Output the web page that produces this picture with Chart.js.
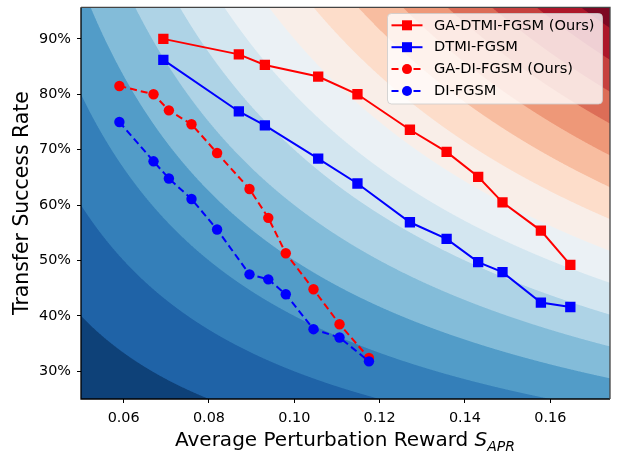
<!DOCTYPE html>
<html>
<head>
<meta charset="utf-8">
<script src="https://cdn.jsdelivr.net/npm/chart.js@4.4.1/dist/chart.umd.min.js"></script>
<style>
  html, body { margin: 0; padding: 0; background: #ffffff; }
  #wrap { width: 619px; height: 453px; }
</style>
</head>
<body>
<div id="wrap"><canvas id="c" width="619" height="453"></canvas></div>
<script>
// ---- data ----
const X_SQUARE = [0.0693, 0.0870, 0.0931, 0.1056, 0.1148, 0.1271, 0.1357, 0.1431, 0.1488, 0.1578, 0.1647];
const GA_DTMI_FGSM = [90.0, 87.2, 85.3, 83.2, 80.0, 73.6, 69.6, 65.1, 60.5, 55.4, 49.2];
const DTMI_FGSM = [86.2, 76.9, 74.4, 68.4, 63.9, 56.9, 53.9, 49.7, 47.9, 42.4, 41.6];
const X_CIRCLE = [0.0590, 0.0670, 0.0706, 0.0759, 0.0819, 0.0895, 0.0939, 0.0980, 0.1045, 0.1106, 0.1175];
const GA_DI_FGSM = [81.5, 80.0, 77.1, 74.6, 69.4, 62.9, 57.7, 51.3, 44.8, 38.5, 32.4];
const DI_FGSM = [75.0, 67.9, 64.8, 61.1, 55.6, 47.5, 46.6, 43.9, 37.6, 36.1, 31.8];
const SERIES_LABELS = ['GA-DTMI-FGSM (Ours)', 'DTMI-FGSM', 'GA-DI-FGSM (Ours)', 'DI-FGSM'];
const X_TICKS = [0.06, 0.08, 0.10, 0.12, 0.14, 0.16];
const Y_TICKS = [30, 40, 50, 60, 70, 80, 90];
// contour levels of the background field (S_APR * success rate)
const LEVELS = [0.01, 0.02, 0.03, 0.04, 0.05, 0.06, 0.07, 0.08, 0.09, 0.10, 0.11, 0.12, 0.13, 0.14, 0.15, 0.16, 0.17];

// RdBu_r colormap anchors
const RDBU_R = [
  [5, 48, 97], [33, 102, 172], [67, 147, 195], [146, 197, 222], [209, 229, 240],
  [247, 247, 247], [253, 219, 199], [244, 165, 130], [214, 96, 77], [178, 24, 43], [103, 0, 31]
];
function cmap(t) {
  t = Math.max(0, Math.min(1, t));
  const p = t * (RDBU_R.length - 1);
  const i = Math.min(Math.floor(p), RDBU_R.length - 2);
  const f = p - i;
  const a = RDBU_R[i], b = RDBU_R[i + 1];
  return [a[0] + (b[0] - a[0]) * f, a[1] + (b[1] - a[1]) * f, a[2] + (b[2] - a[2]) * f];
}
const L0 = LEVELS[0], L1 = LEVELS[LEVELS.length - 1];
const BAND_COLORS = [];
for (let i = 0; i < LEVELS.length - 1; i++) {
  const mid = (LEVELS[i] + LEVELS[i + 1]) / 2;
  BAND_COLORS.push(cmap((mid - L0) / (L1 - L0)));
}
function field(x, yPct) { return x * yPct / 100; }
function bandOf(z) {
  if (z < L0 || z > L1) return -1;
  for (let i = 0; i < LEVELS.length - 1; i++) {
    if (z <= LEVELS[i + 1]) return i;
  }
  return -1;
}

const FONT = "'DejaVu Sans', sans-serif";

const bgPlugin = {
  id: 'bg',
  beforeDraw(chart) {
    const ctx = chart.ctx;
    ctx.save();
    ctx.fillStyle = '#ffffff';
    ctx.fillRect(0, 0, chart.width, chart.height);
    ctx.restore();
  },
  beforeDatasetsDraw(chart) {
    const { ctx, chartArea: ca, scales } = chart;
    const xs = scales.x, ys = scales.y;
    const L = Math.floor(ca.left), T = Math.floor(ca.top);
    const W = Math.ceil(ca.right) - L, H = Math.ceil(ca.bottom) - T;
    const off = document.createElement('canvas');
    off.width = W; off.height = H;
    const octx = off.getContext('2d');
    const img = octx.createImageData(W, H);
    const S = 3;
    const xv = [];
    for (let i = 0; i < W * S; i++) xv.push(xs.getValueForPixel(L + (i + 0.5) / S));
    const yv = [];
    for (let j = 0; j < H * S; j++) yv.push(ys.getValueForPixel(T + (j + 0.5) / S));
    for (let j = 0; j < H; j++) {
      for (let i = 0; i < W; i++) {
        let r = 0, g = 0, b = 0, a = 0;
        for (let sj = 0; sj < S; sj++) {
          for (let si = 0; si < S; si++) {
            const k = bandOf(field(xv[i * S + si], yv[j * S + sj]));
            if (k >= 0) {
              const c = BAND_COLORS[k];
              r += c[0]; g += c[1]; b += c[2]; a += 1;
            } else { r += 255; g += 255; b += 255; a += 1; }
          }
        }
        const idx = (j * W + i) * 4;
        img.data[idx] = r / a; img.data[idx + 1] = g / a; img.data[idx + 2] = b / a; img.data[idx + 3] = 255;
      }
    }
    octx.putImageData(img, 0, 0);
    ctx.save();
    ctx.beginPath();
    ctx.rect(ca.left, ca.top, ca.right - ca.left, ca.bottom - ca.top);
    ctx.clip();
    ctx.drawImage(off, L, T);
    ctx.restore();
  },
  afterDatasetsDraw(chart) {
    const { ctx, chartArea: ca } = chart;
    ctx.save();
    // frame
    ctx.lineWidth = 1.3;
    ctx.strokeStyle = '#000000';
    ctx.beginPath();
    ctx.moveTo(ca.left, ca.top); ctx.lineTo(ca.left, ca.bottom); ctx.lineTo(ca.right, ca.bottom);
    ctx.stroke();
    ctx.strokeStyle = '#444444';
    ctx.beginPath();
    ctx.moveTo(ca.left, ca.top); ctx.lineTo(ca.right, ca.top); ctx.lineTo(ca.right, ca.bottom);
    ctx.stroke();

    // legend
    const bx = 387.5, by = 13.5, bw = 215, bh = 90.5, rr = 4;
    ctx.beginPath();
    ctx.moveTo(bx + rr, by);
    ctx.lineTo(bx + bw - rr, by); ctx.quadraticCurveTo(bx + bw, by, bx + bw, by + rr);
    ctx.lineTo(bx + bw, by + bh - rr); ctx.quadraticCurveTo(bx + bw, by + bh, bx + bw - rr, by + bh);
    ctx.lineTo(bx + rr, by + bh); ctx.quadraticCurveTo(bx, by + bh, bx, by + bh - rr);
    ctx.lineTo(bx, by + rr); ctx.quadraticCurveTo(bx, by, bx + rr, by);
    ctx.closePath();
    ctx.fillStyle = 'rgba(255,255,255,0.8)';
    ctx.fill();
    ctx.strokeStyle = 'rgba(204,204,204,0.8)';
    ctx.lineWidth = 1;
    ctx.stroke();

    const dsOrder = [0, 1, 2, 3];
    dsOrder.forEach((di, row) => {
      const ds = chart.data.datasets[di];
      const cy = 25.3 + row * 21.9;
      ctx.save();
      ctx.strokeStyle = ds.borderColor;
      ctx.lineWidth = ds.borderWidth;
      ctx.setLineDash(ds.borderDash || []);
      ctx.beginPath();
      ctx.moveTo(391.5, cy); ctx.lineTo(422.5, cy);
      ctx.stroke();
      ctx.setLineDash([]);
      ctx.fillStyle = ds.pointBackgroundColor;
      if (ds.pointStyle === 'rect') {
        ctx.fillRect(407 - 5, cy - 5, 10, 10);
      } else {
        ctx.beginPath(); ctx.arc(407, cy, 5, 0, Math.PI * 2); ctx.fill();
      }
      ctx.restore();
      ctx.fillStyle = '#000000';
      ctx.font = '14.6px ' + FONT;
      ctx.textAlign = 'left';
      ctx.textBaseline = 'middle';
      ctx.fillText(ds.label, 434, cy + 0.5);
    });
    ctx.restore();
  },
  afterDraw(chart) {
    const { ctx, chartArea: ca } = chart;
    ctx.save();
    ctx.fillStyle = '#000000';
    // y title
    ctx.font = '20.4px ' + FONT;
    ctx.translate(27.5, (ca.top + ca.bottom) / 2);
    ctx.rotate(-Math.PI / 2);
    ctx.textAlign = 'center';
    ctx.textBaseline = 'alphabetic';
    ctx.fillText('Transfer Success Rate', 0, 0);
    ctx.restore();
    // x title with math-like subscript
    ctx.save();
    ctx.fillStyle = '#000000';
    const partA = 'Average Perturbation Reward ';
    const fA = '20px ' + FONT, fS = 'italic 20px ' + FONT, fSub = 'italic 14px ' + FONT;
    ctx.font = fA; const wA = ctx.measureText(partA).width;
    ctx.font = fS; const wS = ctx.measureText('S').width;
    ctx.font = fSub; const wSub = ctx.measureText('APR').width;
    const total = wA + wS + wSub;
    let x0 = 345 - total / 2;
    const base = 446;
    ctx.textAlign = 'left';
    ctx.textBaseline = 'alphabetic';
    ctx.font = fA; ctx.fillText(partA, x0, base); x0 += wA;
    ctx.font = fS; ctx.fillText('S', x0, base); x0 += wS;
    ctx.font = fSub; ctx.fillText('APR', x0, base + 4.5);
    ctx.restore();
  }
};

function pts(xs, ys) { return xs.map((x, i) => ({ x: x, y: ys[i] })); }

const RED = '#ff0000', BLUE = '#0000ff';
const datasets = [
  { label: SERIES_LABELS[0], data: pts(X_SQUARE, GA_DTMI_FGSM), borderColor: RED, backgroundColor: RED,
    pointBackgroundColor: RED, pointBorderColor: RED, pointStyle: 'rect', pointRadius: 7.3, pointBorderWidth: 0,
    borderWidth: 2, showLine: true, order: 4 },
  { label: SERIES_LABELS[1], data: pts(X_SQUARE, DTMI_FGSM), borderColor: BLUE, backgroundColor: BLUE,
    pointBackgroundColor: BLUE, pointBorderColor: BLUE, pointStyle: 'rect', pointRadius: 7.3, pointBorderWidth: 0,
    borderWidth: 2, showLine: true, order: 3 },
  { label: SERIES_LABELS[2], data: pts(X_CIRCLE, GA_DI_FGSM), borderColor: RED, backgroundColor: RED,
    pointBackgroundColor: RED, pointBorderColor: RED, pointStyle: 'circle', pointRadius: 5.2, pointBorderWidth: 0,
    borderWidth: 2, borderDash: [7, 4], showLine: true, order: 2 },
  { label: SERIES_LABELS[3], data: pts(X_CIRCLE, DI_FGSM), borderColor: BLUE, backgroundColor: BLUE,
    pointBackgroundColor: BLUE, pointBorderColor: BLUE, pointStyle: 'circle', pointRadius: 5.2, pointBorderWidth: 0,
    borderWidth: 2, borderDash: [7, 4], showLine: true, order: 1 }
];

new Chart(document.getElementById('c'), {
  type: 'scatter',
  data: { datasets: datasets },
  options: {
    responsive: false,
    animation: false,
    devicePixelRatio: 1,
    layout: { padding: { top: 5, right: 9, left: 0, bottom: 0 } },
    plugins: { legend: { display: false }, tooltip: { enabled: false } },
    elements: { line: { tension: 0, fill: false } },
    scales: {
      x: {
        type: 'linear', min: 0.05, max: 0.174,
        afterFit(s) { s.height = 54; s.paddingLeft = 0; s.paddingRight = 0; s.paddingTop = 0; s.paddingBottom = 0; },
        afterBuildTicks(s) { s.ticks = X_TICKS.map(v => ({ value: v })); },
        ticks: { callback: v => v.toFixed(2), color: '#000', font: { family: FONT, size: 14.4 }, padding: 7, maxRotation: 0 },
        grid: { drawOnChartArea: false, drawTicks: true, tickLength: 4, color: '#000', lineWidth: 1 },
        border: { display: false }
      },
      y: {
        type: 'linear', min: 25, max: 95.7,
        afterFit(s) { s.width = 81; s.paddingTop = 0; s.paddingBottom = 0; s.paddingLeft = 0; s.paddingRight = 0; },
        afterBuildTicks(s) { s.ticks = Y_TICKS.map(v => ({ value: v })); },
        ticks: { callback: v => v + '%', color: '#000', font: { family: FONT, size: 14.4 }, padding: 6 },
        grid: { drawOnChartArea: false, drawTicks: true, tickLength: 4, color: '#000', lineWidth: 1 },
        border: { display: false }
      }
    }
  },
  plugins: [bgPlugin]
});
</script>
</body>
</html>
